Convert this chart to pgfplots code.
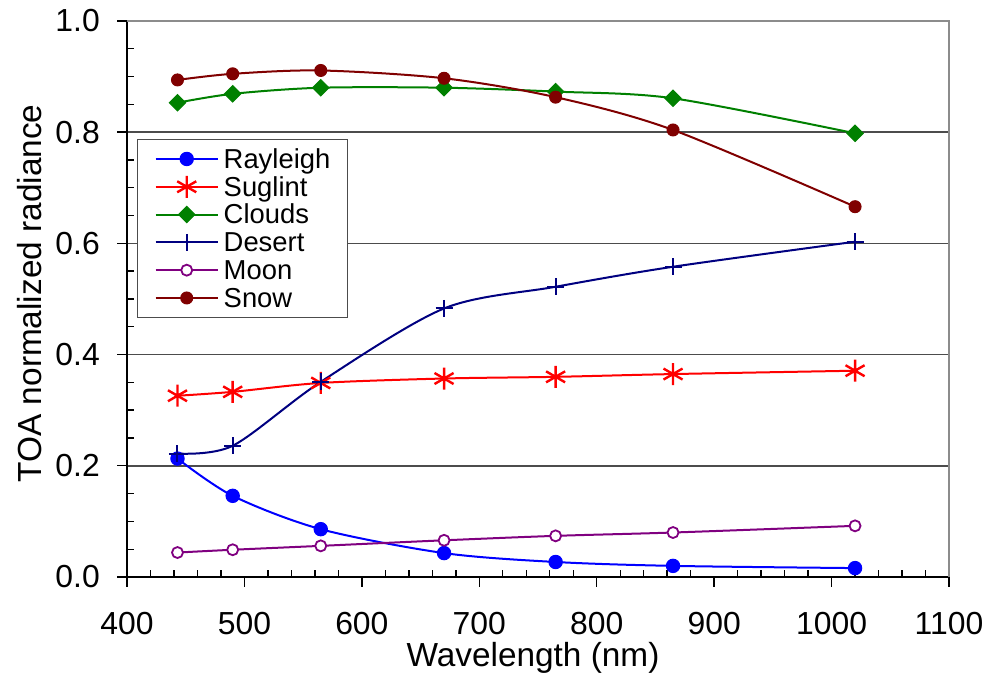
\documentclass[border=0pt]{standalone}
\usepackage{fontspec}
\setmainfont{Liberation Sans}
\usepackage{pgfplots}
\pgfplotsset{compat=1.18}
\usetikzlibrary{calc}
\definecolor{cRay}{RGB}{0,0,255}
\definecolor{cSug}{RGB}{255,0,0}
\definecolor{cClo}{RGB}{0,128,0}
\definecolor{cDes}{RGB}{0,0,128}
\definecolor{cMoo}{RGB}{128,0,128}
\definecolor{cSno}{RGB}{128,0,0}
\begin{document}
\begin{tikzpicture}
\useasboundingbox (-127bp,-97bp) rectangle (878bp,577bp);
\begin{axis}[
  at={(0,0)}, anchor=south west,
  scale only axis, width=822bp, height=556bp,
  xmin=400, xmax=1100, ymin=0, ymax=1,
  axis lines=left, axis line style={-, black, line width=1.8bp},
  xtick={400,500,600,700,800,900,1000,1100},
  ytick={0,0.2,0.4,0.6,0.8,1},
  minor x tick num=4, minor y tick num=3,
  tick align=inside,
  major tick length=-10bp, minor tick length=7bp,
  tick style={black, line width=1.4bp},
  ymajorgrids, grid style={black!70, line width=1.6bp},
  /pgf/number format/assume math mode=true,
  /pgf/number format/1000 sep={},
  yticklabel style={/pgf/number format/fixed, /pgf/number format/fixed zerofill, /pgf/number format/precision=1},
  tick label style={font=\fontsize{32}{38}\selectfont},
  xticklabel style={inner sep=0pt, anchor=north, yshift=-35bp},
  yticklabel style={inner sep=0pt, anchor=east, xshift=-27bp},
  xlabel={Wavelength (nm)},
  ylabel={TOA normalized radiance},
  label style={font=\fontsize{33.5}{40}\selectfont, inner sep=0pt},
  xlabel style={at={($(axis description cs:0.5,0)+(-5bp,-65bp)$)}, anchor=north},
  ylabel style={at={($(axis description cs:0,0.51)+(-85bp,0)$)}, anchor=south},
  legend style={at={(rel axis cs:0.0122,0.788)}, anchor=north west, draw=black!70, line width=1.4bp, fill=white,
    inner xsep=17bp, inner ysep=5.5bp, row sep=0pt, column sep=5bp,
    font=\fontsize{27.5}{32}\selectfont,
    nodes={inner sep=0pt, text height=23.2bp, text depth=4.6bp}},
  legend cell align=left,
  legend image code/.code={\draw[mark repeat=2,mark phase=2] plot coordinates {(0bp,0bp)(31bp,0bp)(62bp,0bp)};},
  after end axis/.code={\draw[black!45, line width=1.8bp] (rel axis cs:0,1) -- (rel axis cs:1,1) -- (rel axis cs:1,0);},
]
\addplot[color=cRay, line width=2bp, smooth, mark=*, mark size=6.7bp, mark options={solid, fill=cRay, line width=1bp}]
  coordinates {(443,0.213) (490,0.146) (565,0.086) (670,0.043) (765,0.027) (865,0.020) (1020,0.016)};
\addlegendentry{Rayleigh}
\addplot[color=cSug, line width=2bp, smooth, mark=asterisk, mark size=11bp, mark options={solid, line width=2.4bp}]
  coordinates {(443,0.326) (490,0.333) (565,0.349) (670,0.357) (765,0.360) (865,0.365) (1020,0.371)};
\addlegendentry{Suglint}
\addplot[color=cClo, line width=2bp, smooth, mark=square*, mark size=5.8bp, mark options={solid, rotate=45, fill=cClo, line width=1bp}]
  coordinates {(443,0.853) (490,0.869) (565,0.880) (670,0.880) (765,0.873) (865,0.861) (1020,0.798)};
\addlegendentry{Clouds}
\addplot[color=cDes, line width=2bp, smooth, mark=+, mark size=8.5bp, mark options={solid, line width=2bp}]
  coordinates {(443,0.222) (490,0.236) (565,0.351) (670,0.483) (765,0.522) (865,0.558) (1020,0.603)};
\addlegendentry{Desert}
\addplot[color=cMoo, line width=2bp, smooth, mark=*, mark size=5.5bp, mark options={solid, fill=white, line width=1.8bp}]
  coordinates {(443,0.044) (490,0.049) (565,0.056) (670,0.066) (765,0.074) (865,0.080) (1020,0.092)};
\addlegendentry{Moon}
\addplot[color=cSno, line width=2bp, smooth, mark=*, mark size=6bp, mark options={solid, fill=cSno, line width=1bp}]
  coordinates {(443,0.894) (490,0.905) (565,0.911) (670,0.897) (765,0.863) (865,0.804) (1020,0.666)};
\addlegendentry{Snow}
\end{axis}
\end{tikzpicture}
\end{document}
